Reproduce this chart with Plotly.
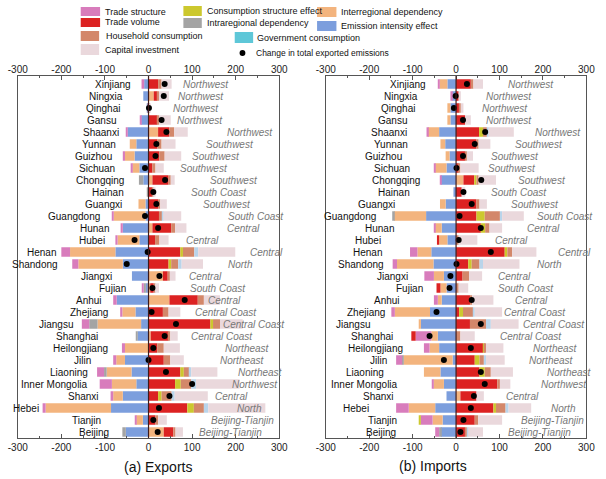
import plotly.graph_objects as go

# ---------------- DATA ----------------
PROVINCES = ["Xinjiang", "Ningxia", "Qinghai", "Gansu", "Shaanxi", "Yunnan", "Guizhou", "Sichuan",
             "Chongqing", "Hainan", "Guangxi", "Guangdong", "Hunan", "Hubei", "Henan", "Shandong",
             "Jiangxi", "Fujian", "Anhui", "Zhejiang", "Jiangsu", "Shanghai", "Heilongjiang", "Jilin",
             "Liaoning", "Inner Mongolia", "Shanxi", "Hebei", "Tianjin", "Beijing"]
REGIONS = ["Northwest", "Northwest", "Northwest", "Northwest", "Northwest", "Southwest", "Southwest",
           "Southwest", "Southwest", "South Coast", "Southwest", "South Coast", "Central", "Central",
           "Central", "North", "Central", "South Coast", "Central", "Central Coast", "Central Coast",
           "Central Coast", "Northeast", "Northeast", "Northeast", "Northwest", "Central", "North",
           "Beijing-Tianjin", "Beijing-Tianjin"]

FACTORS = ["Emission intensity effect", "Interregional dependency", "Intraregional dependency",
           "Trade structure", "Trade volume", "Consumption structure effect",
           "Household consumption", "Government consumption", "Capital investment"]

# (a) Exports
EXP_EI = [-10, -12, -2, -17, -48, -28, -32, -21, -12, 0, -7, -7, -59, -21, -76, -59, -38, -6, -73, -30,
          -17, -25, 0, -54, -39, -28, -59, -86, -13, -52]
EXP_INTER = [0, 12, 0, 0, 22, -15, -22, -16, 9, 0, -16, -73, 9, -50, -104, -102, 33, 4, 48, -30,
             -100, 5, -54, -20, -57, -56, -22, -150, -15, 35]
EXP_INTRA = [0, 0, 0, 0, 0, 0, 0, 0, -10, -4, 0, 0, 0, 0, 0, 0, 0, -5, 0, 0,
             -19, -3, 0, 0, -6, 0, 0, 0, 0, -8]
EXP_TS = [-6, 0, 0, -3, -2, 0, -5, -4, 0, 0, 0, -4, -5, -5, -20, -14, 0, -4, -8, -5,
          -17, 0, -7, -7, -16, -28, -6, -7, -3, 0]
EXP_TV = [22, 8, 2, 20, 26, 20, 25, 9, 37, 8, 22, 24, 43, 15, 73, 46, 11, 8, 65, 33,
          142, 41, 20, 35, 73, 61, 22, 89, 16, 22]
EXP_CS = [0, 0, 0, 0, 0, 0, 0, 0, 0, 0, 0, 0, 0, 0, 6, 6, 0, 0, 0, 0,
          6, 0, 0, 0, 8, 13, 8, 15, 0, 0]
EXP_HH = [8, 4, 0.5, 4, 11, 10, 12, 7, 5, 3, 5, 7, 9, 10, 26, 16, 5, 3, 14, 13,
          16, 4, 15, 15, 13, 24, 23, 23, 6, 5]
EXP_GOV = [0, 0, 0, 0, 0, 0, 0, 0, 0, 0, 0, 3, 0, 0, 9, 8, 0, 0, 0, 0,
           0, 0, 0, 0, 4, 11, 7, 10, 0, 0]
EXP_CAP = [23, 23, 1, 27, 31, 32, 38, 19, 9, 5, 15, 41, 26, 21, 85, 49, 13, 9, 37, 27,
           52, 17, 37, 31, 60, 100, 76, 131, 20, 17]
EXP_TOTAL = [37, 35, 1, 30, 41, 18, 16, -8, 38, 11, 18, -8, 22, -32, -2, -50, 25, 9, 83, 7,
             63, 37, 11, 0, 40, 100, 48, 24, 11, 21]

# (b) Imports
IMP_EI = [-20, -9, -13, -13, -39, -25, -15, -22, -35, -6, -24, -69, -33, -20, -57, -52, -28, -22, -33, -60,
          -81, -42, -39, -8, -36, -28, -22, -48, -31, -35]
IMP_INTER = [-18, 0, -7, -7, -26, -11, -9, -26, 17, 0, -13, -74, -15, -19, -32, -84, -23, -14, -9, -81,
             -5, -15, -22, -113, -38, -24, 10, -61, -23, 0]
IMP_INTRA = [0, 0, 0, 0, 0, 0, 0, 0, 0, 0, 0, -4, 0, 0, 0, 0, 0, 0, 0, 0,
             0, 0, 0, -3, 0, 0, 0, 0, 0, -4]
IMP_TS = [-2, -4, 0, 0, -3, 0, 0, -3, -2, 0, 0, 0, -3, 0, -17, -10, -22, 0, -9, -8,
          0, -36, -13, -14, 0, -4, 0, -29, -28, -9]
IMP_TV = [34, 6, 7, 21, 53, 47, 21, 6, 25, 13, 47, 47, 57, -5, 112, 28, 15, -9, 32, 7,
          32, -10, 62, 43, 54, 95, 37, 86, 43, 21]
IMP_CS = [0, 0, 0, 0, 9, 0, 0, 0, 5, 0, 0, 19, 10, 0, 6, 8, 0, 0, 0, 9,
          0, 0, 3, 11, 12, 0, 0, 6, -4, 0]
IMP_HH = [6, 0, 4, 0, 9, 5, 4, 4, 5, 0, 7, 35, 10, 6, 11, 18, 15, 6, 5, 23,
          37, 10, 4, 10, 14, 6, 0, 22, 8, 4]
IMP_GOV = [0, 0, 0, 0, 4, 0, 0, 0, 0, 0, 0, 5, 0, 0, 0, 8, 0, 0, 0, 4,
           11, 0, 0, 5, 0, 0, 0, 7, 0, 3]
IMP_CAP = [22, 5, 6, 13, 58, 27, 14, 42, 40, 8, 17, 50, 29, 43, 56, 84, 30, 22, 49, 63,
           64, 33, 40, 43, 51, 24, 17, 52, 55, 34]
IMP_TOTAL = [25, -1, -5, 16, 67, 43, 16, 1, 58, 17, 36, 8, 57, 6, 80, 1, -13, -15, 36, -45,
             57, -61, 34, -28, 57, 66, 41, 34, 17, 10]

TICK_VALUES = [-300, -200, -100, 0, 100, 200, 300]
TICK_LABELS = ["-300", "-200", "-100", "0", "100", "200", "300"]

# ---------------- LAYOUT HELPERS (label anchors, in axis units) ----------------
EXP_REGION_POS = [75, 64, 51, 61, 175, 128, 95, 67, 136, 92, 121, 178, 176, 82, 228, 178, 88, 90, 132, 103,
                  167, 93, 170, 160, 201, 188, 147, 199, 139, 112]
EXP_NAME_POS = [-36, -53, -61, -70, -62, -70, -79, -73, -51, -52, -57, -107, -87, -96, -207, -203, -79, -46,
                -101, -88, -168, -112, -88, -127, -134, -135, -110, -246, -105, -87]
IMP_REGION_POS = [115, 65, 54, 64, 178, 130, 77, 69, 138, 75, 123, 181, 158, 84, 230, 181, 91, 91, 132, 106,
                  149, 97, 173, 164, 204, 192, 111, 213, 145, 115]
IMP_NAME_POS = [-65, -82, -91, -109, -109, -106, -119, -102, -78, -102, -135, -180, -139, -169, -167, -161,
                -106, -72, -124, -158, -193, -141, -117, -154, -161, -128, -138, -196, -132, -134]

COLORS = {
    "Emission intensity effect": "#7C9EDD",
    "Interregional dependency": "#F3B47E",
    "Intraregional dependency": "#A4A4A4",
    "Trade structure": "#D87CBC",
    "Trade volume": "#DC2222",
    "Consumption structure effect": "#CCC82E",
    "Household consumption": "#D3876A",
    "Government consumption": "#B9D4EA",
    "Capital investment": "#EAD8DC",
}
LEGEND_COLORS = dict(COLORS)
LEGEND_COLORS["Government consumption"] = "#5EC7D8"

W, H = 606, 479
FONT = "Liberation Sans"

exp_series = [EXP_EI, EXP_INTER, EXP_INTRA, EXP_TS, EXP_TV, EXP_CS, EXP_HH, EXP_GOV, EXP_CAP]
imp_series = [IMP_EI, IMP_INTER, IMP_INTRA, IMP_TS, IMP_TV, IMP_CS, IMP_HH, IMP_GOV, IMP_CAP]

fig = go.Figure()

for panel, series, total, xa, ya in [("exp", exp_series, EXP_TOTAL, "x", "y"),
                                     ("imp", imp_series, IMP_TOTAL, "x2", "y2")]:
    for name, vals in zip(FACTORS, series):
        fig.add_trace(go.Bar(
            y=PROVINCES, x=vals, orientation="h", name=name,
            marker=dict(color=COLORS[name], line=dict(width=0)),
            xaxis=xa, yaxis=ya, showlegend=False, hoverinfo="x+y+name"))
    fig.add_trace(go.Scatter(
        y=PROVINCES, x=total, mode="markers", name="Change in total exported emissions",
        marker=dict(color="black", size=6), xaxis=xa, yaxis=ya, showlegend=False))

# dummy traces so top-side tick label axes render
fig.add_trace(go.Scatter(x=[0], y=[PROVINCES[0]], xaxis="x3", yaxis="y", mode="markers",
                         marker=dict(opacity=0), showlegend=False, hoverinfo="skip"))
fig.add_trace(go.Scatter(x=[0], y=[PROVINCES[0]], xaxis="x4", yaxis="y2", mode="markers",
                         marker=dict(opacity=0), showlegend=False, hoverinfo="skip"))

def px_x(x):
    return x / W

def px_y(y):
    return 1 - y / H

dom_left = [px_x(8), px_x(278)]
dom_right = [px_x(326), px_x(595)]
dom_y = [px_y(438), px_y(76)]
yrange = [len(PROVINCES) - 0.5, -0.67]

xcommon = dict(range=[-300, 300], tickmode="array", tickvals=TICK_VALUES, ticktext=TICK_LABELS,
               showgrid=False, zeroline=False, ticks="inside", ticklen=4, tickcolor="#555555",
               minor=dict(ticks="inside", dtick=50, ticklen=2, tickcolor="#555555"),
               tickfont=dict(family=FONT, size=10, color="#222222"), fixedrange=True)
ycommon = dict(type="category", categoryorder="array", categoryarray=PROVINCES, range=yrange,
               showticklabels=False, showline=True, linecolor="#555555", linewidth=1, mirror=True,
               showgrid=False, zeroline=False, ticks="", fixedrange=True)

fig.update_layout(
    width=W, height=H, margin=dict(l=0, r=0, t=0, b=0),
    paper_bgcolor="white", plot_bgcolor="white",
    barmode="relative", bargap=0.22, showlegend=False,
    xaxis=dict(domain=dom_left, anchor="y", side="bottom", showline=True, linecolor="#555555",
               linewidth=1, mirror=True, **xcommon),
    xaxis2=dict(domain=dom_right, anchor="y2", side="bottom", showline=True, linecolor="#555555",
                linewidth=1, mirror=True, **xcommon),
    xaxis3=dict(overlaying="x", anchor="y", side="top", showline=False, **xcommon),
    xaxis4=dict(overlaying="x2", anchor="y2", side="top", showline=False, **xcommon),
    yaxis=dict(domain=dom_y, anchor="x", **ycommon),
    yaxis2=dict(domain=dom_y, anchor="x2", **ycommon),
)

annotations = []
shapes = []

# zero reference lines
for xr, yr in [("x", "y domain"), ("x2", "y2 domain")]:
    shapes.append(dict(type="line", xref=xr, yref=yr, x0=0, x1=0, y0=0, y1=1,
                       line=dict(color="#3d1a1a", width=1.2), layer="above"))

# province and region labels
for xr, yr, name_pos, reg_pos in [("x", "y", EXP_NAME_POS, EXP_REGION_POS),
                                  ("x2", "y2", IMP_NAME_POS, IMP_REGION_POS)]:
    for i, prov in enumerate(PROVINCES):
        annotations.append(dict(xref=xr, yref=yr, x=name_pos[i], y=prov, text=prov, showarrow=False,
                                xanchor="right", yanchor="middle",
                                font=dict(family=FONT, size=10, color="#111111")))
        annotations.append(dict(xref=xr, yref=yr, x=reg_pos[i], y=prov, text="<i>" + REGIONS[i] + "</i>",
                                showarrow=False, xanchor="left", yanchor="middle",
                                font=dict(family=FONT, size=10, color="#777777")))

# panel titles
annotations.append(dict(xref="paper", yref="paper", x=px_x(153), y=px_y(467), text="(a) Exports",
                        showarrow=False, xanchor="center", yanchor="middle",
                        font=dict(family=FONT, size=14, color="#111111")))
annotations.append(dict(xref="paper", yref="paper", x=px_x(437), y=px_y(466), text="(b) Imports",
                        showarrow=False, xanchor="center", yanchor="middle",
                        font=dict(family=FONT, size=14, color="#111111")))

# custom legend
legend_items = [
    ("Trade structure", 73, 93, 7, 16, 96),
    ("Trade volume", 73, 93, 18, 27, 96),
    ("Household consumption", 73, 92, 31, 41, 97),
    ("Capital investment", 73, 92, 44, 55, 96),
    ("Consumption structure effect", 179, 198, 6, 16, 201),
    ("Intraregional dependency", 179, 198, 18, 28, 201),
    ("Government consumption", 232, 251, 32, 43, 253),
    ("Interregional dependency", 317, 337, 7, 17, 340),
    ("Emission intensity effect", 317, 337, 21, 31, 340),
]
for name, x0, x1, y0, y1, tx in legend_items:
    shapes.append(dict(type="rect", xref="paper", yref="paper", x0=px_x(x0), x1=px_x(x1),
                       y0=px_y(y1), y1=px_y(y0), fillcolor=LEGEND_COLORS[name],
                       line=dict(width=0), layer="above"))
    annotations.append(dict(xref="paper", yref="paper", x=px_x(tx), y=px_y((y0 + y1) / 2), text=name,
                            showarrow=False, xanchor="left", yanchor="middle",
                            font=dict(family=FONT, size=9, color="#111111")))
shapes.append(dict(type="circle", xref="paper", yref="paper", x0=px_x(237), x1=px_x(243),
                   y0=px_y(56), y1=px_y(50), fillcolor="black", line=dict(width=0), layer="above"))
annotations.append(dict(xref="paper", yref="paper", x=px_x(252), y=px_y(53),
                        text="Change in total exported emissions", showarrow=False,
                        xanchor="left", yanchor="middle",
                        font=dict(family=FONT, size=8.5, color="#111111")))

fig.update_layout(annotations=annotations, shapes=shapes)

fig.write_html("out.html")
